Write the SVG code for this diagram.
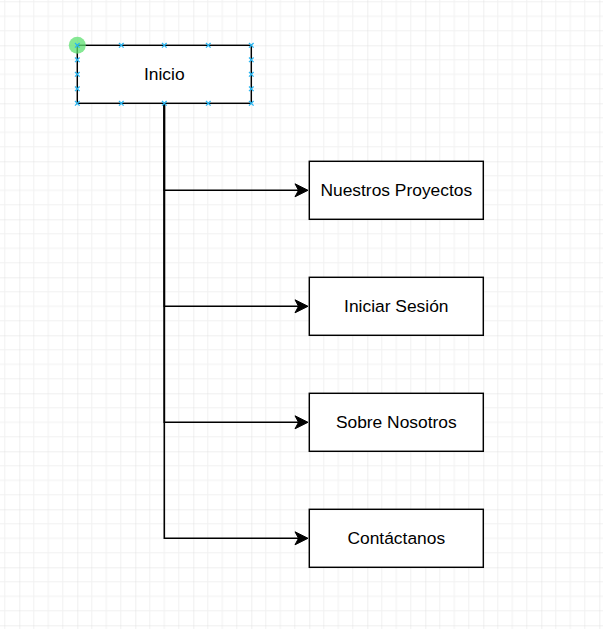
<svg xmlns="http://www.w3.org/2000/svg" width="603" height="629" viewBox="0 0 603 629">
<defs>
<pattern id="grid" patternUnits="userSpaceOnUse" x="19.3" y="-12.7" width="58" height="58">
<path d="M14.5,0 V58 M29,0 V58 M43.5,0 V58 M0,14.5 H58 M0,29 H58 M0,43.5 H58" stroke="#f1f1f1" stroke-width="1" fill="none"/>
<path d="M0,0 V58 M0,0 H58" stroke="#e0e0e0" stroke-width="1" fill="none"/>
</pattern>
<marker id="arrow" markerUnits="userSpaceOnUse" markerWidth="16" markerHeight="16" refX="2" refY="6.5" orient="auto" overflow="visible">
<path d="M-3,0 L10,6.5 L-3,13 L0.5,6.5 Z" fill="#000" stroke="#000" stroke-width="1" stroke-linejoin="miter"/>
</marker>
<symbol id="h" overflow="visible">
<path d="M-2.3,-2.3 L2.3,2.3 M-2.3,2.3 L2.3,-2.3" stroke="#29b6f2" stroke-width="1.3" fill="none"/>
</symbol>
</defs>
<style>
.box{fill:#fff;stroke:#000;stroke-width:1.45}
.lbl{font-family:"Liberation Sans",Arial,Helvetica,sans-serif;font-size:17.4px;fill:#000;text-anchor:middle}
.edge{fill:none;stroke:#000;stroke-width:1.6}
</style>
<rect x="0" y="0" width="603" height="629" fill="#fff"/>
<rect x="0" y="0" width="603" height="629" fill="url(#grid)"/>
<g id="connectors">
<path class="edge" d="M164.3,103.3 V190.3 H300" marker-end="url(#arrow)"/>
<path class="edge" d="M164.3,103.3 V306.3 H300" marker-end="url(#arrow)"/>
<path class="edge" d="M164.3,103.3 V422.3 H300" marker-end="url(#arrow)"/>
<path class="edge" d="M164.3,103.3 V538.3 H300" marker-end="url(#arrow)"/>
</g>
<g id="inicio">
<rect class="box" x="77.3" y="45.3" width="174" height="58"/>
<text class="lbl" x="164.3" y="80.3">Inicio</text>
</g>
<g id="nuestros-proyectos">
<rect class="box" x="309.3" y="161.3" width="174" height="58"/>
<text class="lbl" x="396.3" y="196.3">Nuestros Proyectos</text>
</g>
<g id="iniciar-sesion">
<rect class="box" x="309.3" y="277.3" width="174" height="58"/>
<text class="lbl" x="396.3" y="312.3">Iniciar Sesión</text>
</g>
<g id="sobre-nosotros">
<rect class="box" x="309.3" y="393.3" width="174" height="58"/>
<text class="lbl" x="396.3" y="428.3">Sobre Nosotros</text>
</g>
<g id="contactanos">
<rect class="box" x="309.3" y="509.3" width="174" height="58"/>
<text class="lbl" x="396.3" y="544.3">Contáctanos</text>
</g>
<g id="selection">
<circle cx="77.3" cy="45.3" r="8.5" fill="#5ee070" fill-opacity="0.75"/>
<use href="#h" x="77.3" y="45.3"/>
<use href="#h" x="121.3" y="45.3"/>
<use href="#h" x="164.3" y="45.3"/>
<use href="#h" x="208.3" y="45.3"/>
<use href="#h" x="251.3" y="45.3"/>
<use href="#h" x="77.3" y="103.3"/>
<use href="#h" x="121.3" y="103.3"/>
<use href="#h" x="164.3" y="103.3"/>
<use href="#h" x="208.3" y="103.3"/>
<use href="#h" x="251.3" y="103.3"/>
<use href="#h" x="77.3" y="59.8"/>
<use href="#h" x="77.3" y="74.3"/>
<use href="#h" x="77.3" y="88.8"/>
<use href="#h" x="251.3" y="59.8"/>
<use href="#h" x="251.3" y="74.3"/>
<use href="#h" x="251.3" y="88.8"/>
</g>
</svg>
